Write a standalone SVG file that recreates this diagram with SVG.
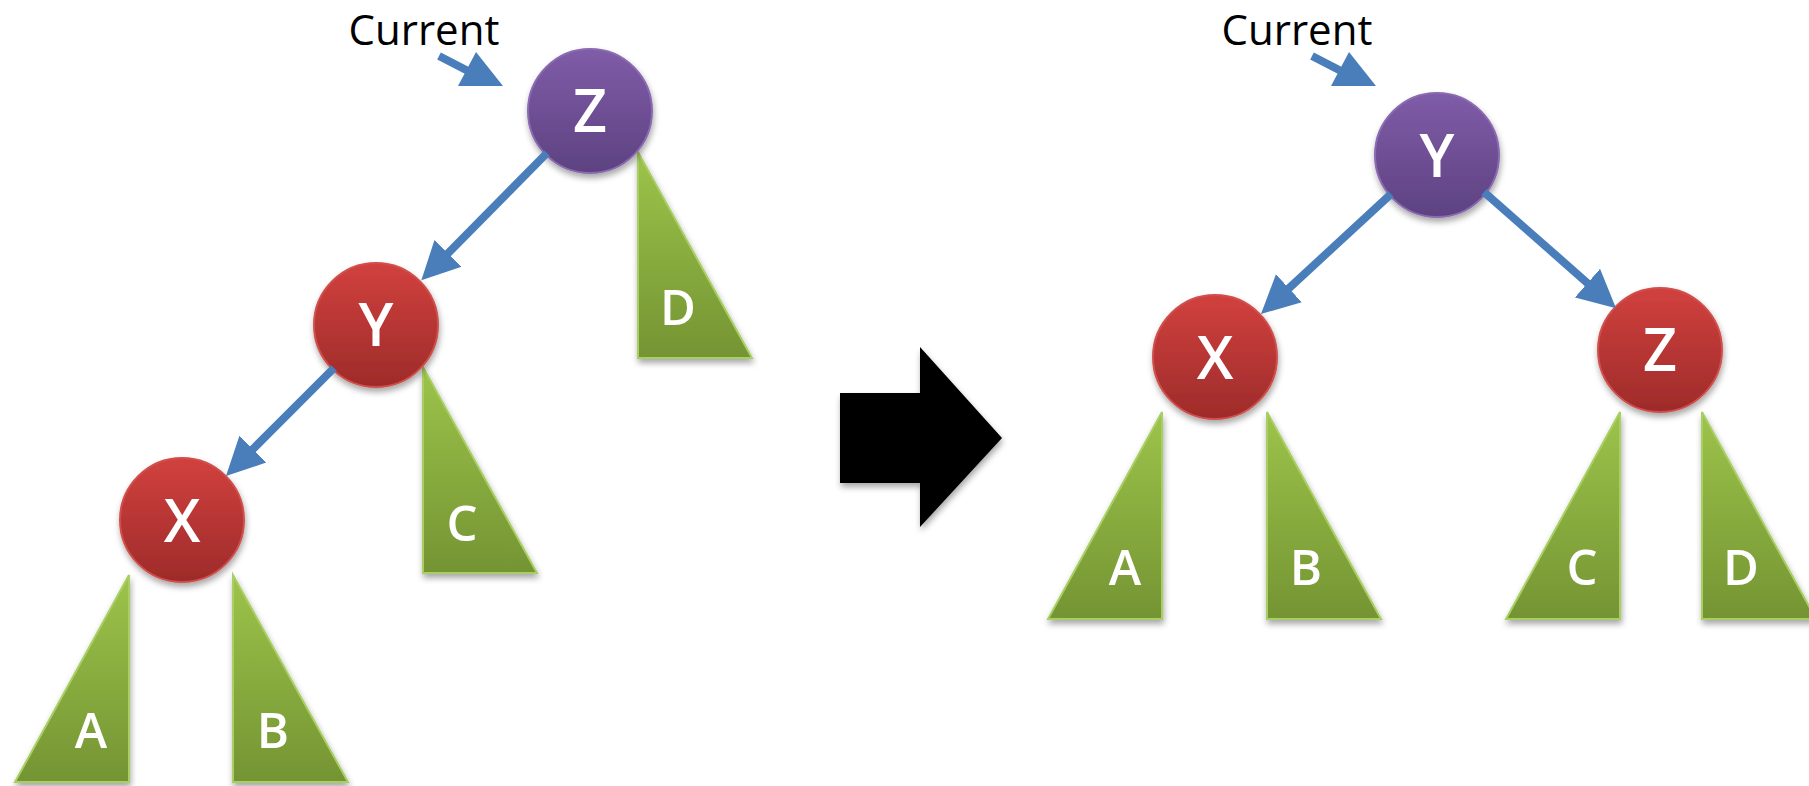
<svg xmlns="http://www.w3.org/2000/svg" width="1809" height="786" viewBox="0 0 1809 786">
<style>
.lbl{font-family:"Open Sans","Noto Sans","Liberation Sans",sans-serif;font-weight:600;fill:#fff;text-anchor:middle}
.node-lbl{font-size:59px}
.tri-lbl{font-size:49px}
.cur{font-family:"Open Sans","Noto Sans","Liberation Sans",sans-serif;font-size:42px;fill:#000;text-anchor:middle}
.red{fill:url(#gRed);stroke:#D0504D;stroke-width:2}
.pur{fill:url(#gPur);stroke:#8A6BB0;stroke-width:2}
.tri{fill:url(#gGreen);stroke:#A9CF63;stroke-width:2}
.edge{stroke:#4A7EBB;stroke-width:8;fill:none;marker-end:url(#ah)}
.ptr{fill:#4A7EBB}
</style>
<defs>
<linearGradient id="gRed" x1="0" y1="0" x2="0" y2="1">
<stop offset="0" stop-color="#D1413E"/><stop offset="1" stop-color="#9E2B2A"/>
</linearGradient>
<linearGradient id="gPur" x1="0" y1="0" x2="0" y2="1">
<stop offset="0" stop-color="#805CA8"/><stop offset="1" stop-color="#5D4281"/>
</linearGradient>
<linearGradient id="gGreen" x1="0" y1="0" x2="0" y2="1">
<stop offset="0" stop-color="#9DC44A"/><stop offset="1" stop-color="#749433"/>
</linearGradient>
<filter id="sh" x="-20%" y="-20%" width="140%" height="140%">
<feDropShadow dx="1" dy="4" stdDeviation="3" flood-color="#000" flood-opacity="0.35"/>
</filter>
<marker id="ah" markerUnits="userSpaceOnUse" markerWidth="40" markerHeight="40" viewBox="0 -20 40 40" refX="8" refY="0" orient="auto">
<path d="M0,-19 L38,0 L0,19 z" fill="#4A7EBB"/>
</marker>
</defs>

<!-- subtrees left -->
<g id="left-A"><polygon class="tri" filter="url(#sh)" points="129,575 129,782 15,782"/><text class="lbl tri-lbl" x="91" y="748">A</text></g>
<g id="left-B"><polygon class="tri" filter="url(#sh)" points="233,575 233,782 348,782"/><text class="lbl tri-lbl" x="273" y="748">B</text></g>
<g id="left-C"><polygon class="tri" filter="url(#sh)" points="423,367 423,573 537,573"/><text class="lbl tri-lbl" x="462" y="541">C</text></g>
<g id="left-D"><polygon class="tri" filter="url(#sh)" points="638,152 638,358 752,358"/><text class="lbl tri-lbl" x="678" y="325">D</text></g>

<!-- nodes left -->
<g id="left-Z"><circle class="pur" filter="url(#sh)" cx="590" cy="111" r="62"/><text class="lbl node-lbl" x="590" y="132">Z</text></g>
<g id="left-Y"><circle class="red" filter="url(#sh)" cx="376" cy="325" r="62"/><text class="lbl node-lbl" x="376" y="346">Y</text></g>
<g id="left-X"><circle class="red" filter="url(#sh)" cx="182" cy="520" r="62"/><text class="lbl node-lbl" x="182" y="542">X</text></g>

<!-- subtrees right -->
<g id="right-A"><polygon class="tri" filter="url(#sh)" points="1162,412 1162,619 1048,619"/><text class="lbl tri-lbl" x="1125" y="585">A</text></g>
<g id="right-B"><polygon class="tri" filter="url(#sh)" points="1267,412 1267,619 1381,619"/><text class="lbl tri-lbl" x="1306" y="585">B</text></g>
<g id="right-C"><polygon class="tri" filter="url(#sh)" points="1620,412 1620,619 1506,619"/><text class="lbl tri-lbl" x="1582" y="585">C</text></g>
<g id="right-D"><polygon class="tri" filter="url(#sh)" points="1702,412 1702,619 1816,619"/><text class="lbl tri-lbl" x="1741" y="585">D</text></g>

<!-- nodes right -->
<g id="right-Y"><circle class="pur" filter="url(#sh)" cx="1437" cy="155" r="62"/><text class="lbl node-lbl" x="1437" y="177">Y</text></g>
<g id="right-X"><circle class="red" filter="url(#sh)" cx="1215" cy="357" r="62"/><text class="lbl node-lbl" x="1215" y="379">X</text></g>
<g id="right-Z"><circle class="red" filter="url(#sh)" cx="1660" cy="350" r="62"/><text class="lbl node-lbl" x="1660" y="371">Z</text></g>

<!-- transform arrow -->
<g id="transform-arrow"><polygon filter="url(#sh)" fill="#000" points="840,393 920,393 920,347 1002,438 920,527 920,483 840,483"/></g>

<!-- current pointers -->
<g id="left-current">
<text class="cur" x="424" y="45">Current</text>
<line x1="439" y1="56" x2="470" y2="72" stroke="#4A7EBB" stroke-width="8"/>
<polygon class="ptr" points="458,86 476,52 503,86"/>
</g>
<g id="right-current">
<text class="cur" x="1297" y="45">Current</text>
<line x1="1312" y1="56" x2="1343" y2="72" stroke="#4A7EBB" stroke-width="8"/>
<polygon class="ptr" points="1331,86 1349,52 1376,86"/>
</g>

<!-- connectors -->
<g id="connectors">
<line class="edge" x1="547" y1="153" x2="442.4" y2="259"/>
<line class="edge" x1="334" y1="368" x2="247.2" y2="454.8"/>
<line class="edge" x1="1391" y1="194" x2="1283" y2="293.7"/>
<line class="edge" x1="1484" y1="192" x2="1593.5" y2="288.4"/>
</g>
</svg>
